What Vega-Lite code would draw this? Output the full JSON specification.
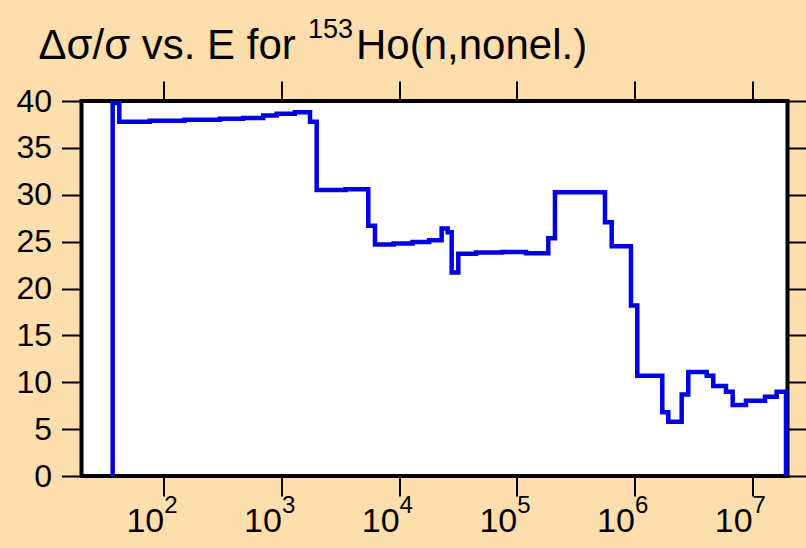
{
  "$schema": "https://vega.github.io/schema/vega-lite/v6.json",
  "autosize": {"type": "none"},
  "width": 706,
  "height": 375,
  "padding": {"left": 81.5, "top": 101, "right": 18.5, "bottom": 72},
  "background": "#ffdead",
  "config": {
    "view": {"stroke": "black", "strokeWidth": 4, "fill": "white"},
    "font": "Liberation Sans",
    "axis": {"grid": false, "domain": false, "tickColor": "black", "tickWidth": 2, "labelColor": "black", "titleColor": "black", "labelFont": "Liberation Sans", "titleFont": "Liberation Sans", "titleFontWeight": "normal"}
  },
  "data": {
    "values": [
      {"E": 36.8, "rel": 0},
      {"E": 36.8, "rel": 39.8},
      {"E": 41.9, "rel": 37.8},
      {"E": 76, "rel": 37.9},
      {"E": 150, "rel": 38.0},
      {"E": 300, "rel": 38.1},
      {"E": 472, "rel": 38.2},
      {"E": 700, "rel": 38.45},
      {"E": 912, "rel": 38.65},
      {"E": 1300, "rel": 38.8},
      {"E": 1750, "rel": 37.8},
      {"E": 1994, "rel": 30.5},
      {"E": 3500, "rel": 30.6},
      {"E": 5474, "rel": 26.7},
      {"E": 6243, "rel": 24.7},
      {"E": 9000, "rel": 24.8},
      {"E": 13000, "rel": 24.95},
      {"E": 18000, "rel": 25.15},
      {"E": 23000, "rel": 26.4},
      {"E": 25900, "rel": 26.0},
      {"E": 28000, "rel": 21.7},
      {"E": 31860, "rel": 23.7},
      {"E": 45000, "rel": 23.85},
      {"E": 75000, "rel": 23.9},
      {"E": 120000, "rel": 23.75},
      {"E": 185400, "rel": 25.35},
      {"E": 211300, "rel": 30.26},
      {"E": 562300, "rel": 27.06},
      {"E": 641100, "rel": 24.5},
      {"E": 935000, "rel": 18.2},
      {"E": 1058000, "rel": 10.7},
      {"E": 1726000, "rel": 6.8},
      {"E": 1940000, "rel": 5.8},
      {"E": 2522000, "rel": 8.7},
      {"E": 2870000, "rel": 11.1},
      {"E": 4114000, "rel": 10.7},
      {"E": 4680000, "rel": 9.6},
      {"E": 6002000, "rel": 9.0},
      {"E": 6843000, "rel": 7.57},
      {"E": 8875000, "rel": 8.03},
      {"E": 12870000, "rel": 8.46},
      {"E": 16190000, "rel": 9.0},
      {"E": 19420000, "rel": 0}
    ]
  },
  "layer": [
    {
      "mark": {"type": "line", "interpolate": "step-after", "color": "#0000e0", "strokeWidth": 4.5},
      "encoding": {
        "x": {"field": "E", "type": "quantitative",
          "scale": {"type": "log", "domain": [20, 20000000], "nice": false},
          "axis": {"orient": "bottom", "values": [100, 1000, 10000, 100000, 1000000, 10000000], "labelExpr": "'10'", "tickSize": 20, "labelPadding": 35, "labelBaseline": "alphabetic", "labelAlign": "right", "labelDx": 8, "labelFontSize": 34, "labelFlush": false, "labelOverlap": false, "title": null}},
        "y": {"field": "rel", "type": "quantitative",
          "scale": {"domain": [0, 40], "nice": false},
          "axis": {"orient": "left", "values": [0, 5, 10, 15, 20, 25, 30, 35, 40], "tickSize": 20, "labelPadding": 10, "labelFontSize": 32, "labelBaseline": "middle", "labelFlush": false, "labelOverlap": false,
            "title": "Ho(n,nonel.)", "titleAngle": 0, "titleX": 274, "titleY": -42.7, "titleAlign": "left", "titleBaseline": "alphabetic", "titleFontSize": 42}}
      }
    },
    {
      "mark": {"type": "line", "interpolate": "step-after", "opacity": 0},
      "encoding": {
        "x": {"field": "E", "type": "quantitative",
          "axis": {"orient": "bottom", "values": [100, 1000, 10000, 100000, 1000000, 10000000], "labelExpr": "round(log(datum.value)/LN10)", "tickSize": 20, "tickOpacity": 0, "labelPadding": 16.7, "labelBaseline": "alphabetic", "labelAlign": "left", "labelDx": 6.5, "labelFontSize": 24, "labelFlush": false, "labelOverlap": false, "title": null}},
        "y": {"field": "rel", "type": "quantitative",
          "axis": {"orient": "right", "values": [0, 5, 10, 15, 20, 25, 30, 35, 40], "tickSize": 20, "labels": false,
            "title": "153", "titleAngle": 0, "titleX": -480, "titleY": -63.7, "titleAlign": "left", "titleBaseline": "alphabetic", "titleFontSize": 27}}
      }
    },
    {
      "mark": {"type": "line", "interpolate": "step-after", "opacity": 0},
      "encoding": {
        "x": {"field": "E", "type": "quantitative",
          "axis": {"orient": "top", "values": [100, 1000, 10000, 100000, 1000000, 10000000], "tickSize": 20, "labels": false,
            "title": "Δσ/σ vs. E for", "titleAngle": 0, "titleX": -43.5, "titleY": -42.7, "titleAlign": "left", "titleBaseline": "alphabetic", "titleFontSize": 42}},
        "y": {"field": "rel", "type": "quantitative", "axis": null}
      }
    }
  ],
  "resolve": {"axis": {"x": "independent", "y": "independent"}}
}
